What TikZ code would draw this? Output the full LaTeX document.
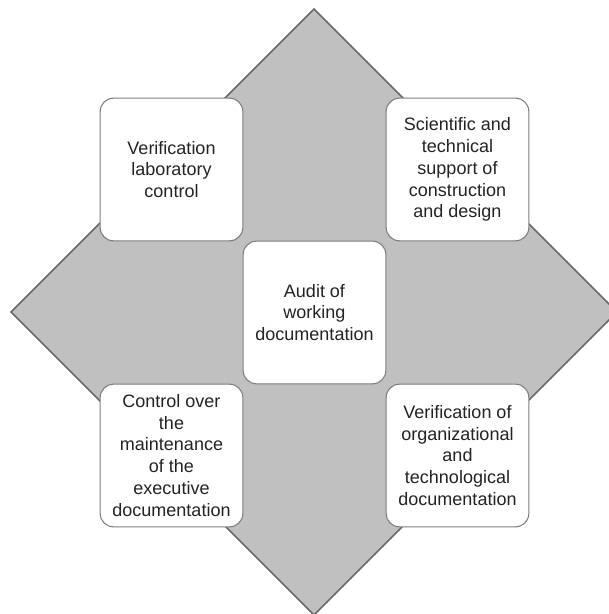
\documentclass[tikz,border=0pt]{standalone}
\usepackage{fontspec}
\setmainfont{Liberation Sans}
\definecolor{diamondfill}{RGB}{192,192,192}
\definecolor{diamondline}{RGB}{105,105,105}
\definecolor{boxline}{RGB}{125,125,125}
\definecolor{boxtext}{RGB}{35,35,35}
\newcommand{\boxfont}{\fontsize{13.5}{16.4}\selectfont}
\begin{document}
\begin{tikzpicture}[x=0.75pt, y=0.75pt, every node/.style={rectangle, draw=boxline, line width=0.8pt, fill=white, rounded corners=10pt, minimum size=107pt, inner sep=2pt, align=center, text=boxtext, font=\boxfont}]
		\useasboundingbox (0,0) rectangle (609,614);
		\clip (0,0) rectangle (609,614);
		
		\draw[fill=diamondfill, draw=diamondline, line width=1.1pt] (11,302) -- (314,605) -- (617,302) -- (314,-1) -- cycle;
		
		\node (lab) at (171.5,444.5) [] {Verification\\laboratory\\control};
		\node (sci) at (457.5,444.5) [] {Scientific and\\technical\\support of\\construction\\and design};
		\node (audit) at (314.5,301.5) [] {Audit of\\working\\documentation};
		\node (ctrl) at (171.5,158.5) [] {Control over\\the\\maintenance\\of the\\executive\\documentation};
		\node (org) at (457.5,158.5) [] {Verification of\\organizational\\and\\technological\\documentation};
		
	\end{tikzpicture}
\end{document}
